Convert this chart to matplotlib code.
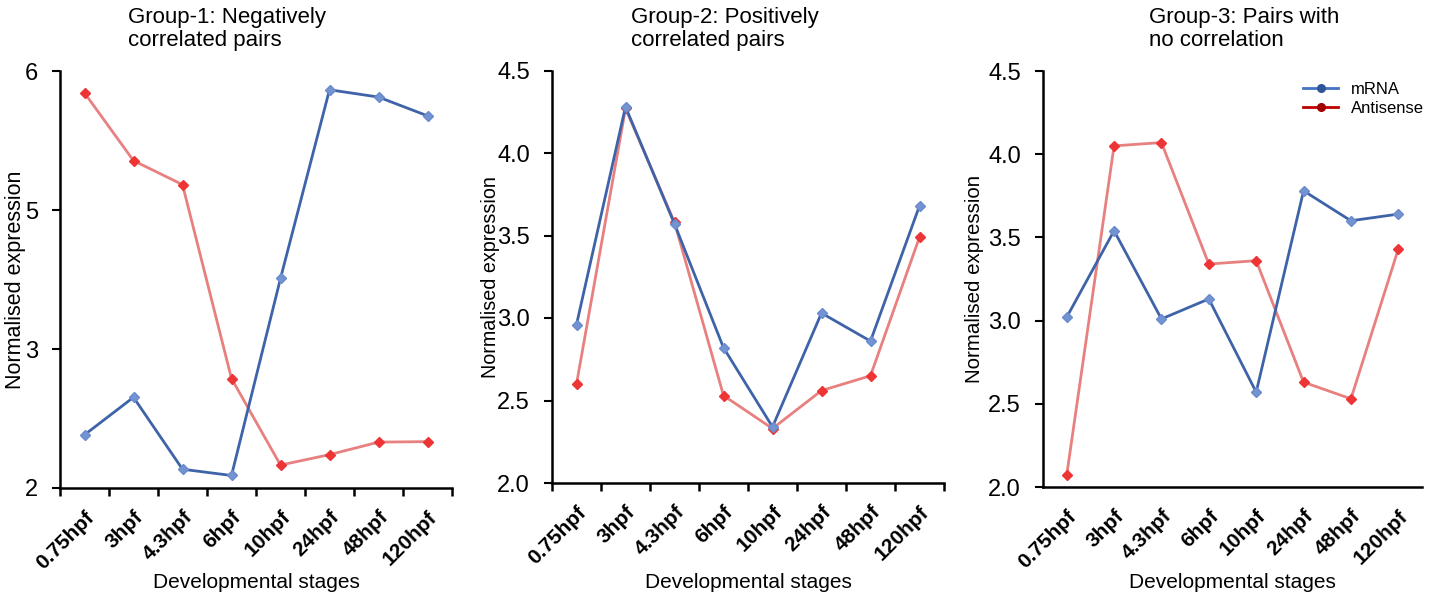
import numpy as np
import matplotlib
matplotlib.use("Agg")
import matplotlib.pyplot as plt
from matplotlib.lines import Line2D
from matplotlib.ticker import FormatStrFormatter, FixedLocator

plt.rcParams['font.family'] = ['Liberation Sans', 'DejaVu Sans']

stages = ["0.75hpf", "3hpf", "4.3hpf", "6hpf", "10hpf", "24hpf", "48hpf", "120hpf"]

g1_mrna = [2.51, 2.87, 2.18, 2.12, 4.01, 5.82, 5.75, 5.57]
g1_anti = [5.79, 5.14, 4.91, 3.05, 2.22, 2.32, 2.44, 2.445]

g2_mrna = [2.96, 4.28, 3.57, 2.82, 2.34, 3.03, 2.86, 3.68]
g2_anti = [2.60, 4.27, 3.58, 2.53, 2.33, 2.56, 2.65, 3.49]

g3_mrna = [3.02, 3.54, 3.01, 3.13, 2.57, 3.78, 3.60, 3.64]
g3_anti = [2.07, 4.05, 4.07, 3.34, 3.36, 2.63, 2.53, 3.43]

titles = ["Group-1: Negatively\ncorrelated pairs",
          "Group-2: Positively\ncorrelated pairs",
          "Group-3: Pairs with\nno correlation"]
ylabel = "Normalised expression"
xlabel = "Developmental stages"
legend_labels = ["mRNA", "Antisense"]

W, H = 1439, 600
fig = plt.figure(figsize=(W / 100, H / 100), dpi=100)

# pixel boxes: left, top, right, bottom
boxes = [(60, 71, 452, 488), (552, 70.5, 944, 483), (1043, 71, 1422, 487)]
ylims = [(2, 6), (2, 4.5), (2, 4.5)]
series = [(g1_mrna, g1_anti), (g2_mrna, g2_anti), (g3_mrna, g3_anti)]
title_x = [128, 631, 1149]
ylabel_x = [16, 490, 975]
ylabel_sizes = [15.5, 14.2, 14.8]

blue_line = "#3f63a8"
blue_mark = "#7393d3"
red_line = "#e88080"
red_mark = "#ee3535"

axes = []
for i, (l, t, r, b) in enumerate(boxes):
    ax = fig.add_axes([l / W, 1 - b / H, (r - l) / W, (b - t) / H])
    axes.append(ax)
    x = np.arange(len(stages))
    m, a = series[i]
    ax.plot(x, a, color=red_line, lw=2.0, marker="D", ms=5.5,
            mfc=red_mark, mec=red_mark, zorder=2)
    ax.plot(x, m, color=blue_line, lw=2.0, marker="D", ms=5.5,
            mfc=blue_mark, mec="#6a8bcc", zorder=3)

    ax.set_xlim(-0.5, len(stages) - 0.5)
    ax.set_ylim(*ylims[i])
    if i == 0:
        ax.set_yticks(np.linspace(2, 6, 4))
        ax.yaxis.set_major_formatter(FormatStrFormatter("%.0f"))
    else:
        ax.set_yticks(np.arange(2.0, 4.51, 0.5))
        ax.yaxis.set_major_formatter(FormatStrFormatter("%.1f"))

    # category boundary ticks (major, no labels) and centered labels (minor)
    ax.xaxis.set_major_locator(FixedLocator(np.arange(-0.5, len(stages), 1.0)))
    ax.xaxis.set_major_formatter(plt.NullFormatter())
    ax.set_xticks(x, minor=True)
    ax.set_xticklabels(stages, minor=True, rotation=45, ha="right",
                       rotation_mode="anchor", fontsize=15, fontweight="bold")
    ax.tick_params(axis="x", which="minor", length=0, pad=14)
    ax.tick_params(axis="x", which="major", length=(0 if i == 2 else 6),
                   width=1.8, direction="out")
    ax.tick_params(axis="y", length=6, width=1.5, pad=10, labelsize=17)

    for s in ("top", "right"):
        ax.spines[s].set_visible(False)
    for s in ("left", "bottom"):
        ax.spines[s].set_linewidth(1.8)

    ax.set_ylabel(ylabel, fontsize=ylabel_sizes[i], va="center")
    ax.yaxis.set_label_coords((ylabel_x[i] - l) / (r - l), 0.5)
    ax.set_xlabel(xlabel, fontsize=15, va="center")
    ax.xaxis.set_label_coords(0.5, (b - 583) / (b - t))

    fig.text(title_x[i] / W, 1 - 7 / H, titles[i], ha="left", va="top",
             fontsize=16, linespacing=1.15)

handles = [Line2D([], [], color="#4472c4", lw=2, marker="o", ms=5.5,
                  mfc="#2f5597", mec="#2f5597"),
           Line2D([], [], color="#c00000", lw=2, marker="o", ms=5.5,
                  mfc="#a00000", mec="#a00000")]
fig.legend(handles, legend_labels, loc="upper left",
           bbox_to_anchor=(1303 / W, 1 - 82 / H), bbox_transform=fig.transFigure,
           frameon=False, fontsize=12, handlelength=2.1, handletextpad=0.8,
           labelspacing=0.25, borderpad=0, borderaxespad=0)

fig.savefig("out.png", dpi=100)
